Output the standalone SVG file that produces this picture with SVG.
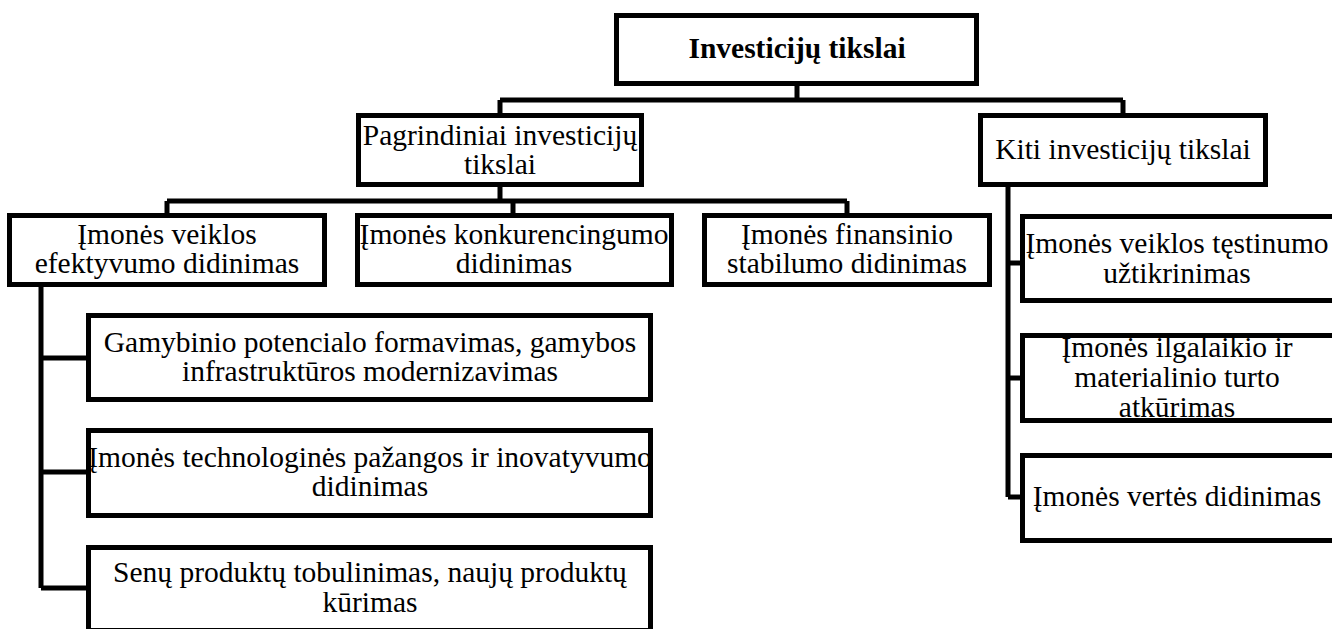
<svg xmlns="http://www.w3.org/2000/svg" width="1332" height="629" viewBox="0 0 1332 629">
<style>
.box{fill:#fff;stroke:#000;stroke-width:5}
.t{font-family:"Liberation Serif","Times New Roman",serif;font-size:29.5px;fill:#000;text-anchor:middle}
.b{font-weight:bold}
.c{fill:none;stroke:#000;stroke-width:5;stroke-linejoin:miter}
</style>
<rect width="1332" height="629" fill="#fff"/>
<g id="connectors">
<path class="c" d="M797,86 V100 M500,100 H1123 M500,100 V113 M1123,100 V113"/>
<path class="c" d="M500,186 V201 M167,201 H847 M167,201 V214 M513,201 V214 M847,201 V214"/>
<path class="c" d="M41,287 V588 M41,358 H87 M41,472 H87 M41,588 H87"/>
<path class="c" d="M1008,187 V497 M1008,263 H1020 M1008,378 H1020 M1008,497 H1020"/>
</g>
<g id="n-root">
<rect class="box" x="616.5" y="15.5" width="360" height="68"/>
<text class="t b" x="797" y="58">Investicijų tikslai</text>
</g>
<g id="n-pagrindiniai">
<rect class="box" x="358.5" y="115.5" width="283" height="69"/>
<text class="t" x="500" y="145">Pagrindiniai investicijų</text>
<text class="t" x="500" y="174">tikslai</text>
</g>
<g id="n-kiti">
<rect class="box" x="980.5" y="115.5" width="285" height="69"/>
<text class="t" x="1123" y="159">Kiti investicijų tikslai</text>
</g>
<g id="n-efektyvumo">
<rect class="box" x="9.5" y="215.5" width="315" height="69"/>
<text class="t" x="167" y="244">Įmonės veiklos</text>
<text class="t" x="167" y="273">efektyvumo didinimas</text>
</g>
<g id="n-konkurencingumo">
<rect class="box" x="357.5" y="215.5" width="314" height="69"/>
<text class="t" x="514" y="244">Įmonės konkurencingumo</text>
<text class="t" x="514" y="273">didinimas</text>
</g>
<g id="n-finansinio">
<rect class="box" x="704.5" y="215.5" width="285" height="69"/>
<text class="t" x="847" y="244">Įmonės finansinio</text>
<text class="t" x="847" y="273">stabilumo didinimas</text>
</g>
<g id="n-gamybinio">
<rect class="box" x="88.5" y="315.5" width="562" height="84"/>
<text class="t" x="370" y="352">Gamybinio potencialo formavimas, gamybos</text>
<text class="t" x="370" y="381">infrastruktūros modernizavimas</text>
</g>
<g id="n-technologines">
<rect class="box" x="88.5" y="430.5" width="562" height="85"/>
<text class="t" x="370" y="467">Įmonės technologinės pažangos ir inovatyvumo</text>
<text class="t" x="370" y="496">didinimas</text>
</g>
<g id="n-produktu">
<rect class="box" x="88.5" y="547.5" width="562" height="83"/>
<text class="t" x="370" y="582">Senų produktų tobulinimas, naujų produktų</text>
<text class="t" x="370" y="612">kūrimas</text>
</g>
<g id="n-testinumo">
<rect class="box" x="1022.5" y="216.5" width="313" height="84"/>
<text class="t" x="1177" y="253">Įmonės veiklos tęstinumo</text>
<text class="t" x="1177" y="283">užtikrinimas</text>
</g>
<g id="n-turto">
<rect class="box" x="1022.5" y="335.5" width="313" height="85"/>
<text class="t" x="1177" y="357">Įmonės ilgalaikio ir</text>
<text class="t" x="1177" y="387">materialinio turto</text>
<text class="t" x="1177" y="417">atkūrimas</text>
</g>
<g id="n-vertes">
<rect class="box" x="1022.5" y="455.5" width="313" height="85"/>
<text class="t" x="1177" y="506">Įmonės vertės didinimas</text>
</g>
</svg>
